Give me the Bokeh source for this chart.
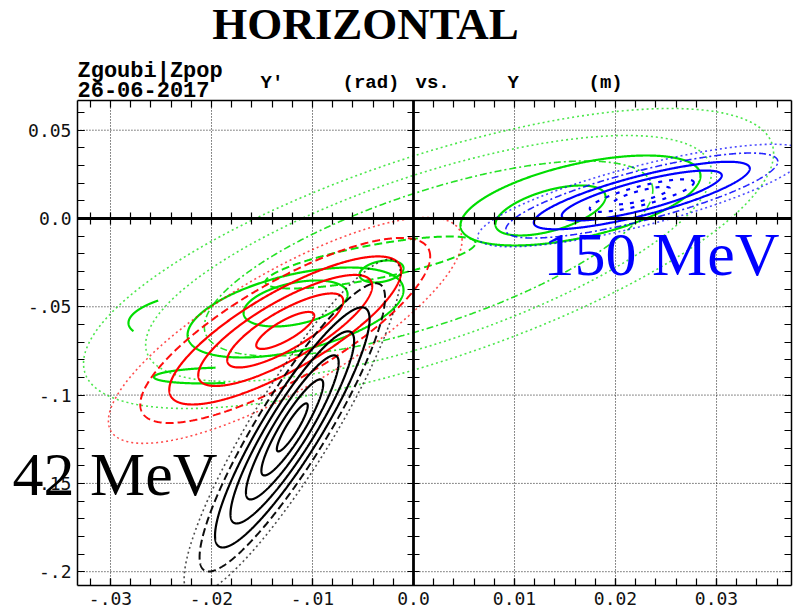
import numpy as np
from bokeh.plotting import figure
from bokeh.models import Range1d, LinearAxis, FixedTicker, Label
from bokeh.embed import file_html
from bokeh.resources import INLINE

# ---------------- axes / ticks ----------------
x_ticks = [-0.03, -0.02, -0.01, 0.0, 0.01, 0.02, 0.03]
x_tick_labels = ["-.03", "-.02", "-.01", "0.0", "0.01", "0.02", "0.03"]
y_ticks = [0.05, 0.0, -0.05, -0.1, -0.15, -0.2]
y_tick_labels = ["0.05", "0.0", "-.05", "-.1", "-.15", "-.2"]
x_minor = [round(-0.032 + 0.002 * i, 4) for i in range(35)]
y_minor = [round(-0.20 + 0.01 * i, 3) for i in range(27)]
x_lim = (-0.03327, 0.03743)      # plotted box
y_lim = (-0.2078, 0.0668)
x_view = (-0.04089, 0.03762)     # whole page
y_view = (-0.22424, 0.12344)

# ---------------- 42 MeV (black) contour family ----------------
black_cx, black_cy = -0.0120, -0.1183
black_ax, black_ay, black_r = 0.00153, 0.0136, 0.90
black_scale = [1, 2, 3, 4, 5, 6, 7]
black_style = ["solid", "solid", "solid", "solid", "solid", "dashed", "dotted"]

# ---------------- red contour family ----------------
red_cx, red_cy = -0.0127, -0.0634
red_ax, red_ay, red_r = 0.00287, 0.01048, 0.80
red_scale = [1, 2, 3, 4, 5, 6.1]
red_style = ["solid", "solid", "solid", "solid", "dashed", "dotted"]

# ---------------- 150 MeV (blue) contour family ----------------
blue_cx, blue_cy = 0.0226, 0.0130
blue_ax, blue_ay, blue_r = 0.00792, 0.01416, 0.80
blue_scale = [0.35, 0.65, 1.0, 1.35, 1.7, 2.05]
blue_style = ["core", "core", "solid", "solid", "dashdot", "dotted"]

# ---------------- green contours (individual) ----------------
green_cx = [-0.01168, -0.01168, -0.00317, -0.00426, 0.01653, 0.01356, 0.00149, 0.00149, 0.00149, -0.02109, -0.0196]
green_cy = [-0.04813, -0.05323, -0.03001, -0.02492, 0.01019, 0.00453, -0.02265, -0.02265, -0.02265, -0.0549, -0.0889]
green_ax = [0.00515, 0.01069, 0.00218, 0.0104, 0.01188, 0.00545, 0.03416, 0.02801, 0.02220, 0.00713, 0.0061]
green_ay = [0.01302, 0.02548, 0.00623, 0.01472, 0.02548, 0.01416, 0.08494, 0.06965, 0.05521, 0.01416, 0.0045]
green_r = [0.40, 0.50, 0.30, 0.75, 0.55, 0.55, 0.70, 0.70, 0.70, 0.30, 0.20]
green_t0 = [0, 0, 0, 0, 0, 0, 0, 0, 0, 0.70, 0.50]   # in units of pi
green_t1 = [2, 2, 2, 2, 2, 2, 2, 2, 2, 1.12, 1.55]
green_style = ["solid", "solid", "solid", "dashed", "solid", "solid", "dotted", "dotted", "dashdot", "solid", "solid"]

BLACK, RED, GREEN, BLUE = "#000000", "#ff0000", "#00dd00", "#0000ff"

STYLE = {
    "solid": dict(line_dash="solid", line_width=2.2, line_alpha=1.0),
    "dashed": dict(line_dash="8 4", line_width=2.0, line_alpha=0.95),
    "dashdot": dict(line_dash="7 3 2 3", line_width=1.6, line_alpha=0.85),
    "dotted": dict(line_dash="2 3", line_width=1.6, line_alpha=0.7),
    "core": dict(line_dash="4 7", line_width=2.2, line_alpha=1.0),
}


def ellipse(cx, cy, ax, ay, r, t0=0.0, t1=2.0, n=900):
    t = np.linspace(t0 * np.pi, t1 * np.pi, n)
    x = cx + ax * np.cos(t)
    y = cy + ay * (r * np.cos(t) + np.sqrt(1 - r * r) * np.sin(t))
    out = (x < x_lim[0]) | (x > x_lim[1]) | (y < y_lim[0]) | (y > y_lim[1])
    x[out] = np.nan
    y[out] = np.nan
    return x, y


p = figure(width=793, height=614,
           x_range=Range1d(*x_view), y_range=Range1d(*y_view),
           x_axis_location=None, y_axis_location=None,
           output_backend="svg", toolbar_location=None,
           min_border=0, background_fill_color="white", border_fill_color="white",
           outline_line_color=None)
p.xgrid.visible = False
p.ygrid.visible = False

tick_font = "DejaVu Sans Mono"
xt = FixedTicker(ticks=x_ticks, minor_ticks=x_minor)
yt = FixedTicker(ticks=y_ticks, minor_ticks=y_minor)

# grid (dotted) inside the box
p.segment(x0=x_ticks, y0=[y_lim[0]] * len(x_ticks), x1=x_ticks, y1=[y_lim[1]] * len(x_ticks),
          line_color="black", line_dash="1 2", line_width=1, line_alpha=0.9)
p.segment(x0=[x_lim[0]] * len(y_ticks), y0=y_ticks, x1=[x_lim[1]] * len(y_ticks), y1=y_ticks,
          line_color="black", line_dash="1 2", line_width=1, line_alpha=0.9)


def box_axis(loc, bounds, ticker, place, labels=None, tick_in=7, tick_out=0, lw=1.5):
    a = LinearAxis(fixed_location=loc, bounds=bounds, ticker=ticker,
                   major_tick_in=tick_in, major_tick_out=tick_out,
                   minor_tick_in=tick_in, minor_tick_out=tick_out,
                   axis_line_width=lw, major_tick_line_width=1.2, minor_tick_line_width=1.2,
                   major_label_text_font=tick_font, major_label_text_font_size="18px",
                   major_label_text_color="#111111")
    if labels is not None:
        a.major_label_overrides = labels
    p.add_layout(a, place)
    return a


bx = box_axis(y_lim[0], x_lim, xt, "below", {t: s for t, s in zip(x_ticks, x_tick_labels)})
bx.major_label_standoff = 7
ly = box_axis(x_lim[0], y_lim, yt, "left", {t: s for t, s in zip(y_ticks, y_tick_labels)})
ly.major_label_standoff = 6
box_axis(y_lim[1], x_lim, FixedTicker(ticks=[], minor_ticks=x_minor), "above")
box_axis(x_lim[1], y_lim, FixedTicker(ticks=[], minor_ticks=y_minor), "right")

# ---------------- contours ----------------
for i in range(len(green_cx)):
    x, y = ellipse(green_cx[i], green_cy[i], green_ax[i], green_ay[i], green_r[i], green_t0[i], green_t1[i])
    p.line(x, y, line_color=GREEN, **STYLE[green_style[i]])

for s, st in zip(red_scale, red_style):
    x, y = ellipse(red_cx, red_cy, red_ax * s, red_ay * s, red_r)
    p.line(x, y, line_color=RED, **STYLE[st])

for s, st in zip(black_scale, black_style):
    x, y = ellipse(black_cx, black_cy, black_ax * s, black_ay * s, black_r)
    p.line(x, y, line_color=BLACK, **STYLE[st])

for s, st in zip(blue_scale, blue_style):
    x, y = ellipse(blue_cx, blue_cy, blue_ax * s, blue_ay * s, blue_r)
    p.line(x, y, line_color=BLUE, **STYLE[st])

# ---------------- central axes through the origin ----------------
box_axis(0.0, x_lim, FixedTicker(ticks=[], minor_ticks=x_minor), "below", tick_in=6, tick_out=6, lw=2.8)
box_axis(0.0, y_lim, FixedTicker(ticks=[], minor_ticks=y_minor), "left", tick_in=6, tick_out=6, lw=2.8)

# ---------------- texts ----------------
def lab(text, x, y, font, size, color="black", style="normal", align="left"):
    p.add_layout(Label(x=x, y=y, x_units="screen", y_units="screen", text=text,
                       text_font=font, text_font_size=size, text_color=color,
                       text_font_style=style, text_align=align, text_baseline="alphabetic"))


lab("HORIZONTAL", 365, 591, "Liberation Serif", "45px", style="bold", align="center")
hdr = "Liberation Mono"
lab("Zgoubi|Zpop", 77, 543, hdr, "22px", style="bold")
lab("26-06-2017", 77, 525, hdr, "22px", style="bold")
lab("Y'", 260, 532, hdr, "19px", style="bold")
lab("(rad)", 342, 532, hdr, "19px", style="bold")
lab("vs.", 415, 532, hdr, "19px", style="bold")
lab("Y", 507, 532, hdr, "19px", style="bold")
lab("(m)", 588, 532, hdr, "19px", style="bold")

lab("42 MeV", 12, 141, "Liberation Serif", "62px", color=BLACK)
lab("150 MeV", 543, 361, "Liberation Serif", "62px", color=BLUE)

open("out.html", "w").write(file_html(p, INLINE))
